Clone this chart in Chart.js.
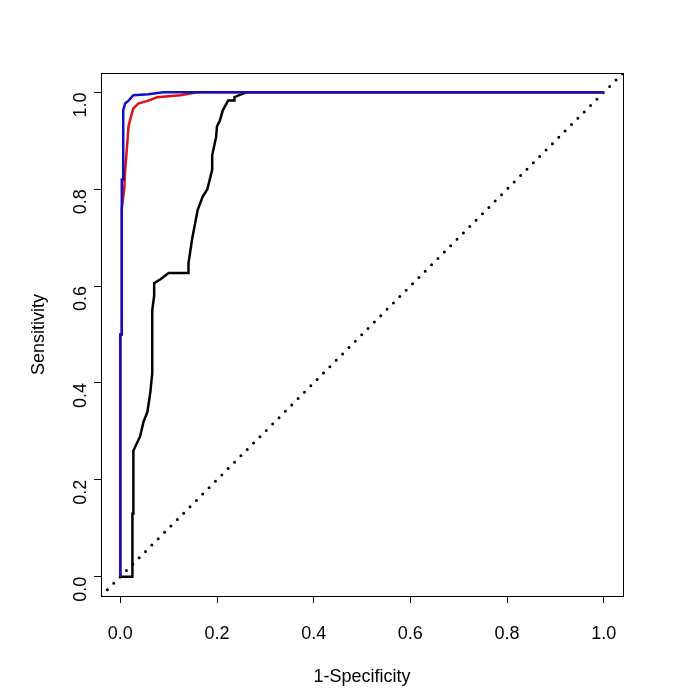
<!DOCTYPE html>
<html>
<head>
<meta charset="utf-8">
<script src="https://cdn.jsdelivr.net/npm/chart.js@4"></script>
<style>
body { margin: 0; background: #fff; }
#wrap { width: 689px; height: 688px; }
</style>
</head>
<body>
<div id="wrap"><canvas id="roc"></canvas></div>
<script>
// Curvas ROC (1-especificidad, sensibilidad)
const negroX = [0, 0.025, 0.025, 0.027, 0.027, 0.041, 0.048, 0.056, 0.062, 0.066, 0.066, 0.07, 0.07, 0.083, 0.1, 0.141, 0.141, 0.145, 0.149, 0.16, 0.17, 0.18, 0.19, 0.19, 0.198, 0.2, 0.206, 0.212, 0.217, 0.223, 0.236, 0.236, 0.247, 0.262, 1];
const negroY = [0, 0, 0.13, 0.13, 0.26, 0.29, 0.32, 0.34, 0.38, 0.42, 0.55, 0.58, 0.606, 0.614, 0.627, 0.627, 0.647, 0.674, 0.70, 0.757, 0.784, 0.80, 0.84, 0.87, 0.907, 0.93, 0.942, 0.963, 0.972, 0.983, 0.983, 0.99, 0.995, 1, 1];
const rojoX = [0, 0, 0.003, 0.003, 0.008, 0.01, 0.014, 0.017, 0.022, 0.027, 0.037, 0.058, 0.076, 0.124, 0.159, 1];
const rojoY = [0, 0.5, 0.5, 0.76, 0.8, 0.84, 0.89, 0.93, 0.95, 0.967, 0.977, 0.983, 0.99, 0.994, 1, 1];
const azulX = [0, 0, 0.003, 0.003, 0.006, 0.006, 0.01, 0.017, 0.027, 0.058, 0.089, 1];
const azulY = [0, 0.5, 0.5, 0.82, 0.82, 0.963, 0.977, 0.983, 0.994, 0.996, 1, 1];
const diagonal = [-0.04, 1.04];
const ticks = [0, 0.2, 0.4, 0.6, 0.8, 1.0];

const puntos = (xs, ys) => xs.map((x, i) => ({ x: x, y: ys[i] }));

const marco = {
  id: 'marco',
  afterDraw(chart) {
    const a = chart.chartArea, c = chart.ctx;
    c.save();
    c.strokeStyle = '#000';
    c.lineWidth = 1;
    c.strokeRect(a.left + 0.5, a.top + 0.5, a.right - a.left, a.bottom - a.top);
    c.restore();
  }
};

const eje = (titulo, esY) => ({
  type: 'linear',
  min: -0.04,
  max: 1.04,
  afterBuildTicks: s => { s.ticks = ticks.map(v => ({ value: v })); },
  afterFit: s => { if (esY) s.width = 73; else s.height = 92; },
  grid: { display: true, drawOnChartArea: false, drawTicks: true, tickLength: 7, color: '#000' },
  border: { display: false },
  ticks: {
    color: '#000',
    font: { family: 'Liberation Sans, Arial', size: 18 },
    callback: v => v.toFixed(1),
    padding: esY ? 13 : 20,
    maxRotation: esY ? 90 : 0,
    minRotation: esY ? 90 : 0
  },
  title: {
    display: true,
    text: titulo,
    color: '#000',
    font: { family: 'Liberation Sans, Arial', size: 18 },
    padding: esY ? { top: 0, bottom: 0 } : { top: 6, bottom: 0 }
  }
});

new Chart(document.getElementById('roc'), {
  type: 'scatter',
  data: {
    datasets: [
      { data: puntos(azulX, azulY), borderColor: '#1010c8', borderWidth: 2.5, showLine: true, pointRadius: 0 },
      { data: puntos(rojoX, rojoY), borderColor: '#dd1111', borderWidth: 2.5, showLine: true, pointRadius: 0 },
      { data: puntos(negroX, negroY), borderColor: '#000', borderWidth: 2.5, showLine: true, pointRadius: 0 },
      { data: puntos(diagonal, diagonal), borderColor: '#000', borderWidth: 3, borderDash: [0, 9], borderCapStyle: 'round', showLine: true, pointRadius: 0 }
    ]
  },
  options: {
    responsive: true,
    maintainAspectRatio: false,
    animation: false,
    layout: { padding: { left: 28, right: 66, top: 73, bottom: 0 } },
    plugins: { legend: { display: false }, tooltip: { enabled: false } },
    scales: { x: eje('1-Specificity', false), y: eje('Sensitivity', true) }
  },
  plugins: [marco]
});
</script>
</body>
</html>
